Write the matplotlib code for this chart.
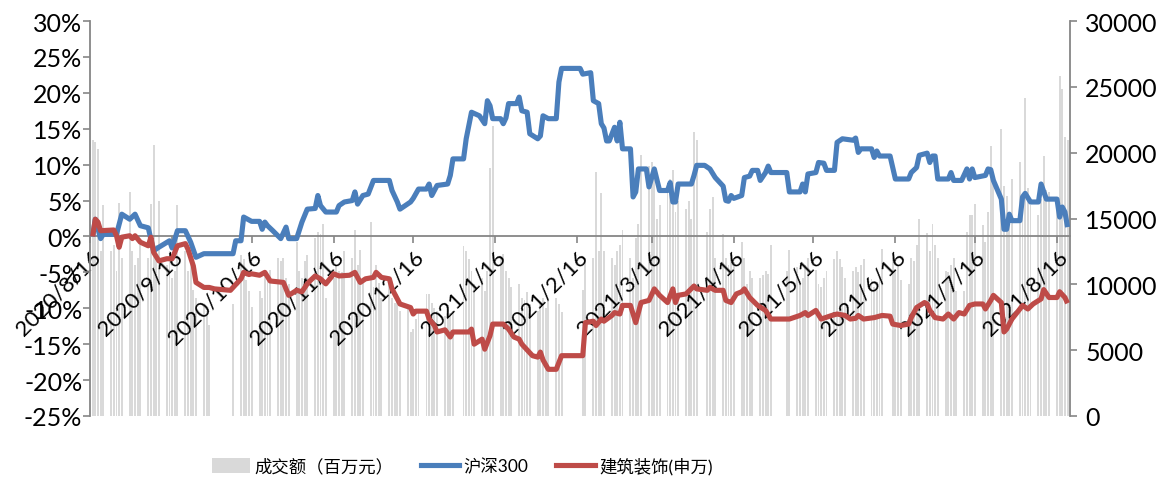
import matplotlib
matplotlib.use("Agg")
import matplotlib.pyplot as plt
import pandas as pd
from matplotlib.lines import Line2D
from matplotlib.patches import Patch

plt.rcParams['font.family'] = ['Lato', 'Noto Sans CJK SC', 'DejaVu Sans']

# ---- data -------------------------------------------------------------
first_day, last_day = '2020-08-17', '2021-08-20'
market_holidays = ['2020-10-01', '2020-10-02', '2020-10-05', '2020-10-06',
                   '2020-10-07', '2020-10-08', '2021-01-01', '2021-02-11',
                   '2021-02-12', '2021-02-15', '2021-02-16', '2021-02-17',
                   '2021-04-05', '2021-05-03', '2021-05-04', '2021-05-05',
                   '2021-06-14']

# daily turnover, million yuan (one value per trading day, week by week)
turnover = [
    21000, 20800, 20300, 12500, 16000,
    12500, 13000, 11000, 16200, 12000,
    17000, 12500, 11500, 12000, 13000,
    12000, 16100, 20600, 13000, 16300,
    11500, 12500, 10500, 11000, 16000,
    12500, 11000, 12000, 9600, 9000,
    8400, 8000, 6900,
    8500,
    12200, 11900, 10300, 9500, 8300,
    9500, 9000, 11000, 10500, 11100,
    12000, 11800, 12000, 10500, 10000,
    13200, 11000, 10500, 11800, 12200,
    13500, 14000, 13800, 14600, 9000,
    10500, 11500, 11000, 10900, 12500,
    12000, 14100, 11500, 12600, 10100,
    14700, 9800, 11500, 10100, 9000,
    10100, 9000, 8600, 9300, 8000,
    8400, 6400, 6600, 7400, 7900,
    9300, 9300, 8600, 8200, 8000,
    7600, 8400, 7800, 8000,
    12900, 12500, 11900, 11000, 10000,
    10500, 9500, 11000, 18800, 22000,
    12000, 12300, 11000, 10500, 9800,
    10000, 9000, 8800, 9400, 8500,
    8000, 8600, 9000, 8200, 8800,
    9000, 8500, 7900,
    9600, 12000,
    12000, 18500, 12500, 16900, 12500,
    12000, 11500, 12500, 13000, 14100,
    12000, 10500, 13500, 14600, 19800,
    19000, 19300, 18700, 15000, 16000,
    17500, 18000, 18700, 15500, 16300,
    15700, 16300, 15000, 21600, 21000,
    14000, 15700, 16600, 12000,
    13800, 12000, 11500, 12000, 11700,
    13200, 12000, 10000, 11000, 10500,
    10500, 10700, 11000, 10800, 13000,
    11000, 12600,
    11300, 10000, 10500, 11500, 12000,
    11100, 10000, 9800, 10500, 11000,
    11900, 12500, 11900, 11300, 10500,
    11000, 11300, 10900, 11500, 11900,
    10400, 9800, 10200, 10600, 12700,
    12000, 11000, 11500, 10300,
    10000, 12000, 11800, 13000, 15000,
    13900, 12500, 14600, 13000, 12000,
    11000, 10900, 11500, 12000, 9500,
    9500, 14000, 15300, 15300, 16100,
    14500, 13200, 15500, 20500, 18400,
    21800, 17500, 16700, 15500, 18000,
    19300, 16000, 24150, 17300, 16000,
    15300, 16500, 19750, 17200, 17000,
    15800, 25800, 24800, 21200, 21000,
]

# cumulative return since 2020-08-17, percent
hs300_points = [
    ('2020-08-17', 0.0), ('2020-08-18', 2.4), ('2020-08-20', -0.3), ('2020-08-21', 0.3),
    ('2020-08-26', 0.3), ('2020-08-28', 3.1), ('2020-08-31', 2.4), ('2020-09-02', 3.1),
    ('2020-09-04', 1.5), ('2020-09-07', 1.2), ('2020-09-09', -2.0), ('2020-09-11', -1.5),
    ('2020-09-15', -0.6), ('2020-09-16', -1.6), ('2020-09-18', 0.8), ('2020-09-21', 0.8),
    ('2020-09-23', -0.8), ('2020-09-25', -2.9), ('2020-09-28', -2.4), ('2020-10-09', -2.4),
    ('2020-10-10', -0.6), ('2020-10-12', -0.6), ('2020-10-13', 2.7), ('2020-10-16', 2.1),
    ('2020-10-19', 2.1), ('2020-10-20', 1.0), ('2020-10-21', 2.0), ('2020-10-22', 1.5),
    ('2020-10-24', 0.8), ('2020-10-27', -0.3), ('2020-10-29', 1.3), ('2020-10-30', -0.3),
    ('2020-11-02', -0.3), ('2020-11-04', 2.0), ('2020-11-06', 3.8), ('2020-11-09', 3.9),
    ('2020-11-10', 5.7), ('2020-11-11', 4.3), ('2020-11-13', 3.4), ('2020-11-17', 3.4),
    ('2020-11-18', 4.3), ('2020-11-20', 4.8), ('2020-11-23', 5.0), ('2020-11-24', 6.2),
    ('2020-11-25', 4.5), ('2020-11-27', 5.7), ('2020-11-29', 5.9), ('2020-12-01', 7.8),
    ('2020-12-07', 7.8), ('2020-12-08', 6.4), ('2020-12-10', 4.8), ('2020-12-11', 3.8),
    ('2020-12-15', 4.8), ('2020-12-16', 5.3), ('2020-12-18', 6.6), ('2020-12-21', 6.6),
    ('2020-12-22', 7.3), ('2020-12-23', 5.7), ('2020-12-25', 7.1), ('2020-12-29', 7.3),
    ('2020-12-30', 8.5), ('2020-12-31', 10.8), ('2021-01-04', 10.8), ('2021-01-05', 13.6),
    ('2021-01-07', 17.3), ('2021-01-10', 16.8), ('2021-01-12', 15.7), ('2021-01-13', 18.9),
    ('2021-01-14', 18.2), ('2021-01-15', 16.4), ('2021-01-18', 16.4), ('2021-01-19', 15.7),
    ('2021-01-20', 16.5), ('2021-01-21', 18.5), ('2021-01-24', 18.5), ('2021-01-25', 19.4),
    ('2021-01-26', 17.5), ('2021-01-28', 17.3), ('2021-01-29', 14.3), ('2021-02-01', 13.6),
    ('2021-02-02', 14.0), ('2021-02-03', 16.8), ('2021-02-05', 16.4), ('2021-02-08', 16.4),
    ('2021-02-09', 21.5), ('2021-02-10', 23.4), ('2021-02-17', 23.4), ('2021-02-18', 22.6),
    ('2021-02-21', 22.8), ('2021-02-22', 18.9), ('2021-02-24', 18.5), ('2021-02-25', 15.7),
    ('2021-02-26', 15.1), ('2021-02-27', 13.3), ('2021-02-28', 13.3), ('2021-03-02', 15.2),
    ('2021-03-03', 13.3), ('2021-03-04', 15.9), ('2021-03-05', 12.2), ('2021-03-08', 12.2),
    ('2021-03-09', 5.5), ('2021-03-10', 6.2), ('2021-03-11', 9.4), ('2021-03-14', 9.4),
    ('2021-03-15', 6.9), ('2021-03-17', 9.4), ('2021-03-19', 6.4), ('2021-03-22', 6.4),
    ('2021-03-23', 7.5), ('2021-03-24', 4.8), ('2021-03-25', 4.8), ('2021-03-26', 7.3),
    ('2021-03-31', 7.3), ('2021-04-01', 8.5), ('2021-04-02', 9.9), ('2021-04-05', 9.9),
    ('2021-04-07', 9.4), ('2021-04-09', 8.2), ('2021-04-12', 7.0), ('2021-04-13', 5.0),
    ('2021-04-14', 4.9), ('2021-04-15', 5.7), ('2021-04-16', 5.3), ('2021-04-19', 5.7),
    ('2021-04-20', 8.2), ('2021-04-22', 8.4), ('2021-04-23', 9.2), ('2021-04-25', 9.2),
    ('2021-04-26', 7.8), ('2021-04-28', 8.9), ('2021-04-29', 9.8), ('2021-04-30', 8.9),
    ('2021-05-06', 8.9), ('2021-05-07', 6.2), ('2021-05-11', 6.2), ('2021-05-12', 7.3),
    ('2021-05-13', 6.2), ('2021-05-14', 8.7), ('2021-05-17', 8.9), ('2021-05-18', 10.3),
    ('2021-05-20', 10.2), ('2021-05-21', 9.2), ('2021-05-24', 9.2), ('2021-05-25', 13.1),
    ('2021-05-27', 13.6), ('2021-05-31', 13.4), ('2021-06-01', 13.7), ('2021-06-02', 11.7),
    ('2021-06-03', 12.2), ('2021-06-07', 12.2), ('2021-06-08', 11.0), ('2021-06-09', 11.9),
    ('2021-06-10', 11.2), ('2021-06-14', 11.2), ('2021-06-16', 8.0), ('2021-06-21', 8.0),
    ('2021-06-22', 8.9), ('2021-06-24', 9.6), ('2021-06-25', 11.3), ('2021-06-28', 11.6),
    ('2021-06-29', 10.3), ('2021-06-30', 11.2), ('2021-07-01', 11.2), ('2021-07-02', 8.0),
    ('2021-07-06', 8.0), ('2021-07-07', 8.9), ('2021-07-08', 7.8), ('2021-07-11', 7.8),
    ('2021-07-13', 9.4), ('2021-07-14', 8.0), ('2021-07-15', 9.4), ('2021-07-16', 8.2),
    ('2021-07-20', 8.5), ('2021-07-21', 9.4), ('2021-07-22', 9.3), ('2021-07-23', 7.8),
    ('2021-07-26', 5.2), ('2021-07-27', 1.0), ('2021-07-28', 1.0), ('2021-07-29', 3.1),
    ('2021-07-30', 2.2), ('2021-08-02', 2.2), ('2021-08-03', 5.5), ('2021-08-04', 6.0),
    ('2021-08-06', 4.8), ('2021-08-09', 4.8), ('2021-08-10', 7.3), ('2021-08-12', 5.2),
    ('2021-08-16', 5.2), ('2021-08-17', 2.7), ('2021-08-18', 4.1), ('2021-08-19', 3.4),
    ('2021-08-20', 1.3),
]

construction_points = [
    ('2020-08-17', 0.0), ('2020-08-18', 2.4), ('2020-08-19', 2.0), ('2020-08-20', 0.8),
    ('2020-08-25', 0.9), ('2020-08-26', 0.1), ('2020-08-27', -1.5), ('2020-08-28', -0.1),
    ('2020-08-31', 0.1), ('2020-09-01', -0.3), ('2020-09-02', 0.1), ('2020-09-04', -0.8),
    ('2020-09-07', -1.3), ('2020-09-08', -0.1), ('2020-09-09', -2.2), ('2020-09-11', -3.4),
    ('2020-09-14', -3.1), ('2020-09-16', -3.1), ('2020-09-18', -1.3), ('2020-09-21', -1.0),
    ('2020-09-22', -1.8), ('2020-09-24', -4.1), ('2020-09-25', -6.4), ('2020-09-28', -7.1),
    ('2020-09-30', -7.1), ('2020-10-02', -7.3), ('2020-10-08', -7.5), ('2020-10-09', -7.1),
    ('2020-10-12', -5.9), ('2020-10-13', -5.0), ('2020-10-15', -5.3), ('2020-10-16', -5.2),
    ('2020-10-19', -5.4), ('2020-10-21', -5.0), ('2020-10-23', -6.2), ('2020-10-28', -6.4),
    ('2020-10-30', -8.2), ('2020-11-02', -7.5), ('2020-11-04', -7.7), ('2020-11-06', -6.6),
    ('2020-11-07', -6.2), ('2020-11-09', -5.5), ('2020-11-11', -5.9), ('2020-11-13', -6.6),
    ('2020-11-15', -5.7), ('2020-11-16', -5.2), ('2020-11-18', -5.5), ('2020-11-22', -5.4),
    ('2020-11-24', -5.0), ('2020-11-26', -6.4), ('2020-11-28', -5.9), ('2020-12-01', -5.7),
    ('2020-12-02', -5.0), ('2020-12-04', -5.7), ('2020-12-07', -5.9), ('2020-12-08', -7.3),
    ('2020-12-10', -8.7), ('2020-12-11', -9.4), ('2020-12-15', -9.9), ('2020-12-16', -10.8),
    ('2020-12-17', -10.4), ('2020-12-21', -10.4), ('2020-12-22', -11.5), ('2020-12-24', -12.4),
    ('2020-12-25', -13.3), ('2020-12-28', -13.0), ('2020-12-30', -14.0), ('2020-12-31', -13.3),
    ('2021-01-06', -13.3), ('2021-01-07', -12.9), ('2021-01-08', -15.0), ('2021-01-11', -14.3),
    ('2021-01-12', -15.7), ('2021-01-14', -13.8), ('2021-01-15', -12.2), ('2021-01-19', -12.2),
    ('2021-01-21', -12.9), ('2021-01-23', -14.0), ('2021-01-25', -14.3), ('2021-01-26', -15.0),
    ('2021-01-30', -16.6), ('2021-02-01', -16.8), ('2021-02-02', -16.1), ('2021-02-03', -17.2),
    ('2021-02-05', -18.5), ('2021-02-08', -18.5), ('2021-02-10', -16.6), ('2021-02-18', -16.6),
    ('2021-02-19', -12.0), ('2021-02-22', -11.8), ('2021-02-23', -12.4), ('2021-02-25', -11.5),
    ('2021-02-26', -11.8), ('2021-03-01', -11.0), ('2021-03-02', -10.6), ('2021-03-04', -10.8),
    ('2021-03-05', -9.6), ('2021-03-08', -9.6), ('2021-03-10', -12.0), ('2021-03-12', -9.2),
    ('2021-03-15', -8.9), ('2021-03-17', -7.3), ('2021-03-19', -8.2), ('2021-03-22', -9.2),
    ('2021-03-24', -7.3), ('2021-03-25', -9.2), ('2021-03-26', -8.2), ('2021-03-29', -8.0),
    ('2021-04-01', -6.9), ('2021-04-02', -7.3), ('2021-04-06', -7.5), ('2021-04-07', -7.1),
    ('2021-04-09', -7.5), ('2021-04-12', -7.5), ('2021-04-13', -8.9), ('2021-04-15', -9.2),
    ('2021-04-17', -8.0), ('2021-04-19', -7.7), ('2021-04-20', -7.3), ('2021-04-22', -8.5),
    ('2021-04-25', -9.6), ('2021-04-28', -10.3), ('2021-04-30', -11.5), ('2021-05-07', -11.5),
    ('2021-05-11', -11.0), ('2021-05-13', -10.6), ('2021-05-14', -11.0), ('2021-05-17', -10.3),
    ('2021-05-19', -11.5), ('2021-05-23', -11.0), ('2021-05-25', -10.8), ('2021-05-28', -11.0),
    ('2021-05-30', -11.5), ('2021-06-01', -11.4), ('2021-06-02', -11.0), ('2021-06-04', -11.5),
    ('2021-06-08', -11.3), ('2021-06-11', -11.0), ('2021-06-14', -11.1), ('2021-06-15', -12.2),
    ('2021-06-18', -12.4), ('2021-06-21', -12.2), ('2021-06-22', -11.3), ('2021-06-24', -9.9),
    ('2021-06-27', -9.2), ('2021-06-28', -9.4), ('2021-06-29', -10.3), ('2021-07-01', -11.3),
    ('2021-07-04', -11.5), ('2021-07-06', -10.8), ('2021-07-08', -11.5), ('2021-07-10', -10.6),
    ('2021-07-12', -10.8), ('2021-07-14', -9.6), ('2021-07-16', -9.4), ('2021-07-19', -9.4),
    ('2021-07-20', -10.1), ('2021-07-22', -8.9), ('2021-07-23', -8.2), ('2021-07-26', -9.2),
    ('2021-07-27', -13.3), ('2021-07-28', -12.9), ('2021-07-30', -11.5), ('2021-08-02', -10.1),
    ('2021-08-03', -9.6), ('2021-08-05', -10.1), ('2021-08-07', -9.4), ('2021-08-10', -8.7),
    ('2021-08-11', -7.4), ('2021-08-13', -8.5), ('2021-08-16', -8.5), ('2021-08-17', -7.7),
    ('2021-08-19', -8.5), ('2021-08-20', -9.3),
]

tick_labels = ['2020/8/16', '2020/9/16', '2020/10/16', '2020/11/16', '2020/12/16',
               '2021/1/16', '2021/2/16', '2021/3/16', '2021/4/16', '2021/5/16',
               '2021/6/16', '2021/7/16', '2021/8/16']
pct_ticks = list(range(-25, 31, 5))
vol_ticks = list(range(0, 30001, 5000))

series_names = ['成交额（百万元）', '沪深300', '建筑装饰(申万)']

# ---- styling ----------------------------------------------------------
BAR_GREY = '#D9D9D9'
BLUE = '#4A7EBB'
RED = '#BE4B48'
AXIS_GREY = '#868686'

trade_days = pd.bdate_range(first_day, last_day).difference(pd.to_datetime(market_holidays))
hs_x = pd.to_datetime([d for d, _ in hs300_points])
hs_y = [v for _, v in hs300_points]
cs_x = pd.to_datetime([d for d, _ in construction_points])
cs_y = [v for _, v in construction_points]
tick_dates = pd.to_datetime(tick_labels, format='%Y/%m/%d')

fig = plt.figure(figsize=(11.64, 4.81), dpi=100)
ax = fig.add_axes([90 / 1164, 1 - 417 / 481, 980 / 1164, 395 / 481])
ax_vol = ax.twinx()
ax.set_zorder(ax_vol.get_zorder() + 1)
ax.patch.set_visible(False)

# turnover columns on the right-hand axis
ax_vol.bar(trade_days, turnover, width=0.72, color=BAR_GREY, linewidth=0)
ax_vol.set_ylim(0, 30000)
ax_vol.set_yticks(vol_ticks)
ax_vol.set_yticklabels([str(v) for v in vol_ticks])

# index performance lines on the left-hand axis
ax.plot(hs_x, hs_y, color=BLUE, lw=3.7, solid_joinstyle='round',
        solid_capstyle='butt', zorder=3)
ax.plot(cs_x, cs_y, color=RED, lw=3.7, solid_joinstyle='round',
        solid_capstyle='butt', zorder=3)
ax.set_ylim(-25, 30)
ax.set_yticks(pct_ticks)
ax.set_yticklabels([f'{v}%' for v in pct_ticks])

ax.set_xlim(pd.Timestamp('2020-08-16'), pd.Timestamp('2021-08-20 22:00'))
ax.set_xticks(tick_dates)
ax.set_xticklabels(tick_labels)

# spines: category axis sits on the zero line
for a in (ax, ax_vol):
    for s in a.spines.values():
        s.set_visible(False)
ax.spines['left'].set_visible(True)
ax.spines['left'].set_color(AXIS_GREY)
ax.spines['left'].set_linewidth(1.3)
ax.spines['bottom'].set_visible(True)
ax.spines['bottom'].set_position(('data', 0))
ax.spines['bottom'].set_color(AXIS_GREY)
ax.spines['bottom'].set_linewidth(1.3)
ax.spines['bottom'].set_zorder(2.5)
ax_vol.spines['right'].set_visible(True)
ax_vol.spines['right'].set_color(AXIS_GREY)
ax_vol.spines['right'].set_linewidth(1.3)

ax.tick_params(axis='y', direction='out', length=5, width=1.2, color=AXIS_GREY,
               labelsize=18, pad=0.5)
ax_vol.tick_params(axis='y', direction='out', length=5, width=1.2, color=AXIS_GREY,
                   labelsize=18, pad=6)
ax.tick_params(axis='x', direction='out', length=5, width=1.2, color=AXIS_GREY,
               labelsize=16, pad=2)
for lbl in ax.get_xticklabels():
    lbl.set_rotation(45)
    lbl.set_rotation_mode('anchor')
    lbl.set_horizontalalignment('right')
    lbl.set_verticalalignment('top')

handles = [Patch(facecolor=BAR_GREY, edgecolor='none'),
           Line2D([], [], color=BLUE, lw=3.7),
           Line2D([], [], color=RED, lw=3.7)]
fig.legend(handles, series_names, loc='center', bbox_to_anchor=(0.397, 0.03),
           ncol=3, frameon=False, fontsize=12.5, handlelength=2.2,
           handleheight=0.9, handletextpad=0.25, columnspacing=1.6)

fig.savefig('out.png', dpi=100)
